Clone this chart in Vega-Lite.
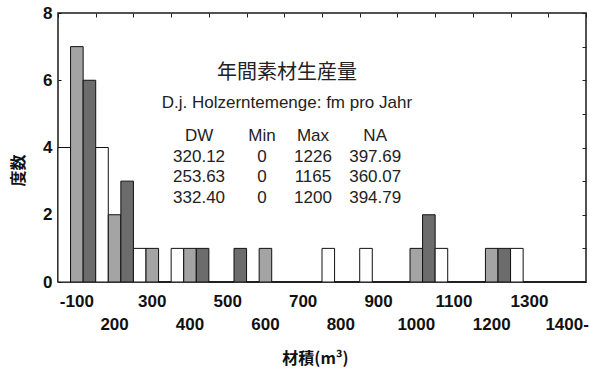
{
  "$schema": "https://vega.github.io/schema/vega-lite/v6.json",
  "width": 528,
  "height": 269,
  "autosize": "none",
  "padding": {"left": 58, "top": 13, "right": 4, "bottom": 94},
  "background": "white",
  "config": {
    "view": {"stroke": "#1a1a1a", "strokeWidth": 1.5},
    "font": "Liberation Sans"
  },
  "datasets": {
    "counts": [
      {"bin": "-100", "series": "A", "n": 4}, {"bin": "-100", "series": "B", "n": 7}, {"bin": "-100", "series": "C", "n": 6},
      {"bin": "200", "series": "A", "n": 4}, {"bin": "200", "series": "B", "n": 2}, {"bin": "200", "series": "C", "n": 3},
      {"bin": "300", "series": "A", "n": 1}, {"bin": "300", "series": "B", "n": 1}, {"bin": "300", "series": "C", "n": 0},
      {"bin": "400", "series": "A", "n": 1}, {"bin": "400", "series": "B", "n": 1}, {"bin": "400", "series": "C", "n": 1},
      {"bin": "500", "series": "A", "n": 0}, {"bin": "500", "series": "B", "n": 0}, {"bin": "500", "series": "C", "n": 1},
      {"bin": "600", "series": "A", "n": 0}, {"bin": "600", "series": "B", "n": 1}, {"bin": "600", "series": "C", "n": 0},
      {"bin": "700", "series": "A", "n": 0}, {"bin": "700", "series": "B", "n": 0}, {"bin": "700", "series": "C", "n": 0},
      {"bin": "800", "series": "A", "n": 1}, {"bin": "800", "series": "B", "n": 0}, {"bin": "800", "series": "C", "n": 0},
      {"bin": "900", "series": "A", "n": 1}, {"bin": "900", "series": "B", "n": 0}, {"bin": "900", "series": "C", "n": 0},
      {"bin": "1000", "series": "A", "n": 0}, {"bin": "1000", "series": "B", "n": 1}, {"bin": "1000", "series": "C", "n": 2},
      {"bin": "1100", "series": "A", "n": 1}, {"bin": "1100", "series": "B", "n": 0}, {"bin": "1100", "series": "C", "n": 0},
      {"bin": "1200", "series": "A", "n": 0}, {"bin": "1200", "series": "B", "n": 1}, {"bin": "1200", "series": "C", "n": 1},
      {"bin": "1300", "series": "A", "n": 1}, {"bin": "1300", "series": "B", "n": 0}, {"bin": "1300", "series": "C", "n": 0},
      {"bin": "1400-", "series": "A", "n": 0}, {"bin": "1400-", "series": "B", "n": 0}, {"bin": "1400-", "series": "C", "n": 0}
    ],
    "stats": [
      {"line": 0, "DW": "DW", "Min": "Min", "Max": "Max", "NA": "NA"},
      {"line": 1, "DW": "320.12", "Min": "0", "Max": "1226", "NA": "397.69"},
      {"line": 2, "DW": "253.63", "Min": "0", "Max": "1165", "NA": "360.07"},
      {"line": 3, "DW": "332.40", "Min": "0", "Max": "1200", "NA": "394.79"}
    ]
  },
  "layer": [
    {
      "data": {"name": "counts"},
      "layer": [
        {
          "mark": {"type": "bar", "stroke": "#111", "strokeWidth": 1},
          "encoding": {
            "x": {
              "field": "bin", "type": "ordinal",
              "sort": ["-100", "200", "300", "400", "500", "600", "700", "800", "900", "1000", "1100", "1200", "1300", "1400-"],
              "scale": {"paddingInner": 0, "paddingOuter": 0},
              "title": "材積(m³)",
              "axis": {
                "orient": "bottom", "domain": false, "ticks": false, "labelAngle": 0,
                "labelFont": "Liberation Sans", "labelFontSize": 17, "labelFontWeight": "bold", "labelColor": "#111",
                "labelBaseline": "top",
                "labelPadding": {"condition": {"test": "indexof(['200','400','600','800','1000','1200','1400-'], datum.value) >= 0", "value": 34}, "value": 11},
                "titleFont": "Noto Sans CJK JP", "titleFontSize": 16, "titleFontWeight": "bold", "titleColor": "#111",
                "titleX": 257, "titleY": 76, "titleBaseline": "middle"
              }
            },
            "xOffset": {"field": "series", "type": "nominal", "sort": ["A", "B", "C"], "scale": {"paddingInner": 0, "paddingOuter": 0}},
            "y": {
              "field": "n", "type": "quantitative",
              "scale": {"domain": [0, 8], "nice": false},
              "title": "度数",
              "axis": {
                "orient": "left", "values": [0, 2, 4, 6, 8], "grid": false, "domain": false,
                "tickSize": -3, "tickColor": "#111",
                "labelFont": "Liberation Sans", "labelFontSize": 17, "labelFontWeight": "bold", "labelColor": "#111", "labelPadding": 9,
                "titleFont": "Noto Sans CJK JP", "titleFontSize": 16, "titleFontWeight": "bold", "titleColor": "#111",
                "titleAngle": -90, "titleX": -40, "titleY": 157, "titleAlign": "center", "titleBaseline": "middle"
              }
            },
            "fill": {"field": "series", "type": "nominal", "scale": {"domain": ["A", "B", "C"], "range": ["#ffffff", "#a4a4a4", "#6c6c6c"]}, "legend": null}
          }
        },
        {
          "mark": {"type": "tick", "opacity": 0},
          "encoding": {
            "x": {
              "field": "bin", "type": "ordinal",
              "sort": ["-100", "200", "300", "400", "500", "600", "700", "800", "900", "1000", "1100", "1200", "1300", "1400-"],
              "axis": {"orient": "top", "labels": false, "domain": false, "tickBand": "extent", "tickSize": -4, "tickColor": "#222", "title": null}
            },
            "y": {
              "field": "n", "type": "quantitative",
              "axis": {"orient": "right", "values": [0, 1, 2, 3, 4, 5, 6, 7, 8], "labels": false, "domain": false, "grid": false, "tickSize": -4, "tickColor": "#222", "title": null}
            }
          }
        }
      ],
      "resolve": {"axis": {"x": "independent", "y": "independent"}}
    },
    {
      "data": {"values": [{"label": "年間素材生産量"}]},
      "mark": {"type": "text", "font": "Noto Sans CJK JP", "fontSize": 20, "color": "#222", "baseline": "middle", "align": "center"},
      "encoding": {
        "x": {"datum": 607, "type": "quantitative", "scale": {"domain": [0, 1400]}, "axis": null},
        "y": {"datum": 6.22, "type": "quantitative", "scale": {"domain": [0, 8], "nice": false}, "axis": null},
        "text": {"field": "label"}
      }
    },
    {
      "data": {"values": [{"label": "D.j. Holzerntemenge: fm pro Jahr"}]},
      "mark": {"type": "text", "font": "Liberation Sans", "fontSize": 17, "color": "#222", "baseline": "middle", "align": "center"},
      "encoding": {
        "x": {"datum": 607, "type": "quantitative", "scale": {"domain": [0, 1400]}, "axis": null},
        "y": {"datum": 5.32, "type": "quantitative", "scale": {"domain": [0, 8], "nice": false}, "axis": null},
        "text": {"field": "label"}
      }
    },
    {
      "data": {"name": "stats"},
      "mark": {"type": "text", "font": "Liberation Sans", "fontSize": 17, "color": "#222", "baseline": "middle", "align": "center"},
      "encoding": {
        "x": {"datum": 374, "type": "quantitative", "scale": {"domain": [0, 1400]}, "axis": null},
        "y": {"field": "line", "type": "quantitative", "scale": {"domain": [-6, 7.12], "reverse": true, "nice": false, "zero": false}, "axis": null},
        "text": {"field": "DW"}
      }
    },
    {
      "data": {"name": "stats"},
      "mark": {"type": "text", "font": "Liberation Sans", "fontSize": 17, "color": "#222", "baseline": "middle", "align": "center"},
      "encoding": {
        "x": {"datum": 541, "type": "quantitative", "scale": {"domain": [0, 1400]}, "axis": null},
        "y": {"field": "line", "type": "quantitative", "scale": {"domain": [-6, 7.12], "reverse": true, "nice": false, "zero": false}, "axis": null},
        "text": {"field": "Min"}
      }
    },
    {
      "data": {"name": "stats"},
      "mark": {"type": "text", "font": "Liberation Sans", "fontSize": 17, "color": "#222", "baseline": "middle", "align": "center"},
      "encoding": {
        "x": {"datum": 676, "type": "quantitative", "scale": {"domain": [0, 1400]}, "axis": null},
        "y": {"field": "line", "type": "quantitative", "scale": {"domain": [-6, 7.12], "reverse": true, "nice": false, "zero": false}, "axis": null},
        "text": {"field": "Max"}
      }
    },
    {
      "data": {"name": "stats"},
      "mark": {"type": "text", "font": "Liberation Sans", "fontSize": 17, "color": "#222", "baseline": "middle", "align": "center"},
      "encoding": {
        "x": {"datum": 841, "type": "quantitative", "scale": {"domain": [0, 1400]}, "axis": null},
        "y": {"field": "line", "type": "quantitative", "scale": {"domain": [-6, 7.12], "reverse": true, "nice": false, "zero": false}, "axis": null},
        "text": {"field": "NA"}
      }
    }
  ],
  "resolve": {"scale": {"x": "independent", "y": "independent"}, "axis": {"x": "independent", "y": "independent"}}
}
